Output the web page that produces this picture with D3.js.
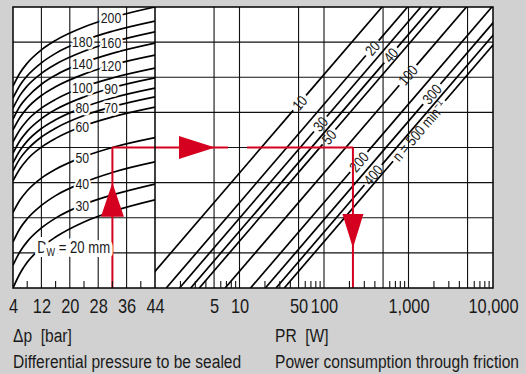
<!DOCTYPE html>
<html>
<head>
<meta charset="utf-8">
<script src="https://cdn.jsdelivr.net/npm/d3@7"></script>
<style>
  body { margin: 0; background: #d1d1d1; }
  svg { display: block; font-family: "Liberation Sans", Arial, sans-serif; }
</style>
</head>
<body>
<svg id="chart" width="526" height="374"></svg>
<script>
// Left panel: one curve per shaft diameter Dw [mm], read in grid rows (unlabelled middle scale, 0..8)
const pressureSteps = [4, 6, 8, 12, 16, 24, 32, 44];
const diameters = [200, 180, 160, 140, 120, 100, 90, 80, 70, 60, 50, 40, 30, 20];
const curveRows = [
    [5.75, 6.13, 6.40, 6.78, 7.05, 7.43, 7.70, 8.00],
    [5.41, 5.78, 6.04, 6.41, 6.68, 7.05, 7.31, 7.60],
    [5.12, 5.49, 5.75, 6.11, 6.37, 6.74, 7.00, 7.29],
    [4.81, 5.18, 5.43, 5.80, 6.06, 6.42, 6.68, 6.97],
    [4.50, 4.86, 5.12, 5.48, 5.73, 6.09, 6.35, 6.63],
    [4.16, 4.51, 4.77, 5.12, 5.37, 5.73, 5.98, 6.26],
    [3.84, 4.20, 4.46, 4.82, 5.08, 5.44, 5.70, 5.98],
    [3.56, 3.92, 4.18, 4.54, 4.79, 5.15, 5.41, 5.69],
    [3.33, 3.69, 3.94, 4.30, 4.55, 4.91, 5.16, 5.44],
    [3.05, 3.40, 3.66, 4.01, 4.26, 4.62, 4.87, 5.15],
    [2.15, 2.51, 2.77, 3.13, 3.38, 3.74, 4.00, 4.28],
    [1.31, 1.70, 1.97, 2.35, 2.63, 3.01, 3.29, 3.59],
    [0.65, 1.04, 1.32, 1.71, 1.99, 2.38, 2.65, 2.96],
    [0.00, 0.42, 0.73, 1.15, 1.45, 1.88, 2.18, 2.51]
];

// Right panel: speed lines n [min-1], P [W] where each line meets the top edge
const speeds = [10, 20, 30, 40, 50, 100, 200, 300, 400, 500];
const speedTopPower = [486, 975, 1400, 1900, 2400, 4850, 9700, 14500, 19400, 24300];
const decadesPerRow = 0.357;

// Axes
const pressureTicks = [4, 12, 20, 28, 36, 44];
const pressureGrid = [12, 20, 28, 36];
const pressureMinor = [8, 16, 24, 32, 40];
const powerTicks = [5, 10, 50, 100, 1000, 10000];
const powerGrid = [5, 10, 50, 100, 500, 1000, 5000];
const rowGrid = [1, 2, 3, 4, 5, 6, 7];

// Worked example (red)
const exampleDp = 32;
const exampleRow = 4;
const examplePower = 220;

// Layout
const plot = { left: 13, mid: 155, right: 493, top: 7, bottom: 288 };
const rightColumn = [200, 160, 120, 90, 70];
const speedLabelRows = [5.27, 6.83, 4.67, 6.63, 4.30, 6.06, 3.59, 5.52, 3.22, 4.47];
const red = "#d5001f";
const narrow = 0.82; // squeeze Liberation Sans to a condensed look

const svg = d3.select("#chart");

const xLeft = d3.scaleLinear().domain([4, 44]).range([plot.left, plot.mid]);
const xRight = d3.scaleLog().domain([1, 10000]).range([plot.mid, plot.right]);
const y = d3.scaleLinear().domain([0, 8]).range([plot.bottom, plot.top]);

function at(x, yy) {
    return `translate(${x},${yy}) scale(${narrow},1)`;
}

svg.append("rect").attr("width", 526).attr("height", 374).attr("fill", "#d1d1d1");
svg.append("rect")
    .attr("x", plot.left).attr("y", plot.top)
    .attr("width", plot.right - plot.left).attr("height", plot.bottom - plot.top)
    .attr("fill", "#fff");

let defs = svg.append("defs");
defs.append("clipPath").attr("id", "clipLeft").append("rect")
    .attr("x", plot.left).attr("y", plot.top)
    .attr("width", plot.mid - plot.left).attr("height", plot.bottom - plot.top);
defs.append("clipPath").attr("id", "clipRight").append("rect")
    .attr("x", plot.mid).attr("y", plot.top)
    .attr("width", plot.right - plot.mid).attr("height", plot.bottom - plot.top);

// Grid
let grid = svg.append("g").attr("stroke", "#111").attr("stroke-width", 1.1);
grid.selectAll("line.h").data(rowGrid).enter().append("line")
    .attr("x1", plot.left).attr("x2", plot.right)
    .attr("y1", d => y(d)).attr("y2", d => y(d));
grid.selectAll("line.vl").data(pressureGrid).enter().append("line")
    .attr("x1", d => xLeft(d)).attr("x2", d => xLeft(d))
    .attr("y1", plot.top).attr("y2", plot.bottom);
grid.selectAll("line.vr").data(powerGrid).enter().append("line")
    .attr("x1", d => xRight(d)).attr("x2", d => xRight(d))
    .attr("y1", plot.top).attr("y2", plot.bottom);

// Diameter curves
let curveLine = d3.line()
    .x((d, i) => xLeft(pressureSteps[i]))
    .y(d => y(d))
    .curve(d3.curveMonotoneX);

svg.append("g").attr("clip-path", "url(#clipLeft)")
    .selectAll("path")
    .data(curveRows)
    .enter()
    .append("path")
    .attr("d", curveLine)
    .attr("fill", "none")
    .attr("stroke", "#000")
    .attr("stroke-width", 1.7);

// Speed lines (gap cut where the label sits)
let linesG = svg.append("g").attr("clip-path", "url(#clipRight)");
let speedLabelsG = svg.append("g").attr("font-size", 15).attr("fill", "#1a1a1a");

speeds.forEach((n, i) => {
    let topP = speedTopPower[i];
    let bottomP = topP / Math.pow(10, 8 * decadesPerRow);
    let x0 = xRight(bottomP), y0 = y(0);
    let x1 = xRight(topP), y1 = y(8);
    let len = Math.hypot(x1 - x0, y1 - y0);
    let ux = (x1 - x0) / len, uy = (y1 - y0) / len;
    let angle = Math.atan2(y1 - y0, x1 - x0) * 180 / Math.PI;

    let row = speedLabelRows[i];
    let cx = xRight(topP / Math.pow(10, (8 - row) * decadesPerRow));
    let cy = y(row);

    let label = speedLabelsG.append("text")
        .attr("transform", `translate(${cx},${cy}) rotate(${angle}) scale(${narrow},1)`)
        .attr("text-anchor", "middle")
        .attr("dy", "0.36em");
    if (n === 500) {
        label.append("tspan").text("n = 500 min");
        label.append("tspan").attr("font-size", 10).attr("dy", "-0.55em").text("\u22121");
    } else {
        label.text(n);
    }
    let half = label.node().getComputedTextLength() * narrow / 2 + 3;

    [[x0, y0, cx - ux * half, cy - uy * half], [cx + ux * half, cy + uy * half, x1, y1]].forEach(s => {
        linesG.append("line")
            .attr("x1", s[0]).attr("y1", s[1])
            .attr("x2", s[2]).attr("y2", s[3])
            .attr("stroke", "#000")
            .attr("stroke-width", 1.7);
    });
});

// Red example path
let redG = svg.append("g").attr("stroke", red).attr("stroke-width", 2).attr("fill", "none");
redG.append("line")
    .attr("x1", xLeft(exampleDp)).attr("x2", xLeft(exampleDp))
    .attr("y1", y(0)).attr("y2", y(exampleRow));
redG.append("line")
    .attr("x1", xLeft(exampleDp)).attr("x2", xRight(7.3))
    .attr("y1", y(exampleRow)).attr("y2", y(exampleRow));
redG.append("line")
    .attr("x1", xRight(12.3)).attr("x2", xRight(examplePower))
    .attr("y1", y(exampleRow)).attr("y2", y(exampleRow));
redG.append("line")
    .attr("x1", xRight(examplePower)).attr("x2", xRight(examplePower))
    .attr("y1", y(exampleRow)).attr("y2", y(0));

// Arrows
let arrows = svg.append("g").attr("fill", red);
let ax = xLeft(exampleDp), ay = y(3.0);
arrows.append("path").attr("d", `M${ax},${ay} L${ax + 11.5},${ay + 34} L${ax - 11.5},${ay + 34} Z`);
ax = xRight(5.13); ay = y(exampleRow);
arrows.append("path").attr("d", `M${ax},${ay} L${ax - 36},${ay - 11.5} L${ax - 36},${ay + 11.5} Z`);
ax = xRight(examplePower); ay = y(1.14);
arrows.append("path").attr("d", `M${ax},${ay} L${ax + 10.5},${ay - 34} L${ax - 10.5},${ay - 34} Z`);

// Diameter labels
let dwLabels = svg.append("g")
    .attr("font-size", 15)
    .attr("fill", "#1a1a1a")
    .attr("stroke", "#fff")
    .attr("stroke-width", 5)
    .attr("stroke-linejoin", "round")
    .attr("paint-order", "stroke");

diameters.forEach((dw, i) => {
    if (dw === 20) return;
    let dp = rightColumn.includes(dw) ? 31.6 : 23.5;
    let row = d3.scaleLinear().domain(pressureSteps).range(curveRows[i])(dp);
    dwLabels.append("text")
        .attr("transform", at(xLeft(dp), y(row)))
        .attr("dy", "0.36em")
        .attr("text-anchor", "middle")
        .text(dw);
});

let dwMain = dwLabels.append("text")
    .attr("transform", at(xLeft(10.8), y(1.0)))
    .attr("stroke-width", 8);
dwMain.append("tspan").attr("font-size", 16).text("D");
dwMain.append("tspan").attr("font-size", 11).attr("dy", 3).text("W");
dwMain.append("tspan").attr("font-size", 16).attr("dy", -3).text("\u00a0= 20 mm");

// Frame
svg.append("rect")
    .attr("x", plot.left).attr("y", plot.top)
    .attr("width", plot.right - plot.left).attr("height", plot.bottom - plot.top)
    .attr("fill", "none").attr("stroke", "#000").attr("stroke-width", 1.5);
svg.append("line")
    .attr("x1", plot.mid).attr("x2", plot.mid)
    .attr("y1", plot.top).attr("y2", plot.bottom)
    .attr("stroke", "#000").attr("stroke-width", 1.5);

// Minor ticks on the bottom edge
const powerMinor = [1, 10, 100, 1000].flatMap(d => [2, 3, 4, 6, 7, 8, 9].map(k => k * d));
let ticks = svg.append("g").attr("stroke", "#111").attr("stroke-width", 1.1);
ticks.selectAll("line.tl").data(pressureMinor).enter().append("line")
    .attr("x1", d => xLeft(d)).attr("x2", d => xLeft(d))
    .attr("y1", plot.bottom).attr("y2", plot.bottom - 7);
ticks.selectAll("line.tr").data(powerMinor).enter().append("line")
    .attr("x1", d => xRight(d)).attr("x2", d => xRight(d))
    .attr("y1", plot.bottom).attr("y2", plot.bottom - 7);

// Tick labels
function styleAxis(g) {
    g.attr("font-family", null).attr("font-size", 20);
    g.select(".domain").remove();
    g.selectAll("text").attr("fill", "#1a1a1a").attr("transform", `scale(${narrow},1)`);
}
svg.append("g")
    .attr("transform", `translate(0,${plot.bottom})`)
    .call(d3.axisBottom(xLeft).tickValues(pressureTicks).tickSize(0).tickPadding(11))
    .call(styleAxis);
svg.append("g")
    .attr("transform", `translate(0,${plot.bottom})`)
    .call(d3.axisBottom(xRight).tickValues(powerTicks).tickSize(0).tickPadding(11).tickFormat(d3.format(",")))
    .call(styleAxis);

// Axis titles
let titles = svg.append("g").attr("font-size", 19).attr("fill", "#1a1a1a");
titles.append("text").attr("transform", at(13, 342)).text("\u0394p\u00a0\u00a0[bar]");
titles.append("text").attr("transform", at(13, 368)).text("Differential pressure to be sealed");
titles.append("text").attr("transform", at(275, 342)).text("PR\u00a0\u00a0[W]");
titles.append("text").attr("transform", at(275, 368)).text("Power consumption through friction");
</script>
</body>
</html>
